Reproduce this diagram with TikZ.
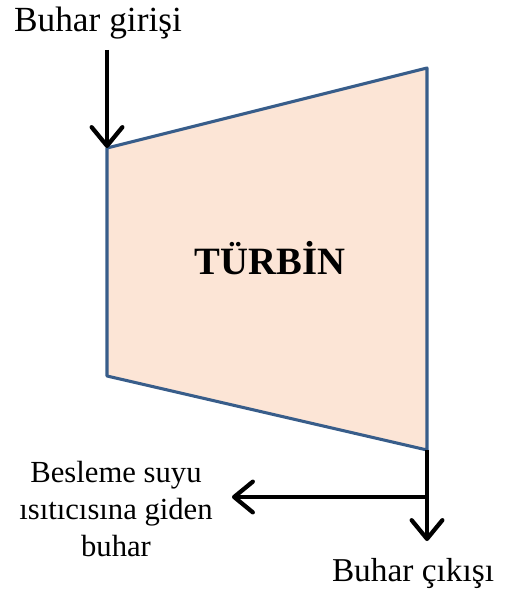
\documentclass[tikz,border=0pt]{standalone}
\usepackage{fontspec}
\setmainfont{Liberation Serif}
\usepackage{tikz}
\usetikzlibrary{positioning,arrows.meta}
\definecolor{turbinefill}{RGB}{252,229,214}
\definecolor{turbineedge}{RGB}{56,93,138}
\tikzset{
  flow/.style={line width=3.2pt,-{Straight Barb[length=14pt,width=23pt,line cap=round,line join=round]}},
  lbl/.style={font=\fontsize{25}{27}\selectfont,inner sep=0pt}
}

\begin{document}
\begin{tikzpicture}[x=.75pt,y=-.75pt]
    \useasboundingbox (0,0) rectangle (507,595);
    % turbine body
    \coordinate (tl) at (107,148); \coordinate (tr) at (427,68);
    \coordinate (br) at (427,450); \coordinate (bl) at (107,376);
    \filldraw[fill=turbinefill,draw=turbineedge,line width=2.3pt,line join=round] (tl) -- (tr) -- (br) -- (bl) -- cycle;
    \node[font=\fontsize{29}{30}\selectfont\bfseries,inner sep=0pt] (turbine) at (270,258) {TÜRBİN};
    % steam in
    \node[lbl,font=\fontsize{26.5}{28}\selectfont] (inlet) at (98,23) {Buhar girişi};
    \coordinate (instart) at (107,50);
    \draw[flow] (instart) -- (tl);
    % steam out and extraction
    \coordinate (junction) at (427,497); \coordinate (outend) at (427,541); \coordinate (extend) at (232,497);
    \draw[line width=3.2pt] (br) -- (junction);
    \draw[flow] (junction) -- (outend);
    \draw[flow] (junction) -- (extend);
    \node[lbl] (outlet) at (413,573) {Buhar çıkışı};
    \node[lbl,font=\fontsize{23}{28}\selectfont,align=center] (heater) at (116,509) {Besleme suyu\\ısıtıcısına giden\\buhar};
\end{tikzpicture}
\end{document}
